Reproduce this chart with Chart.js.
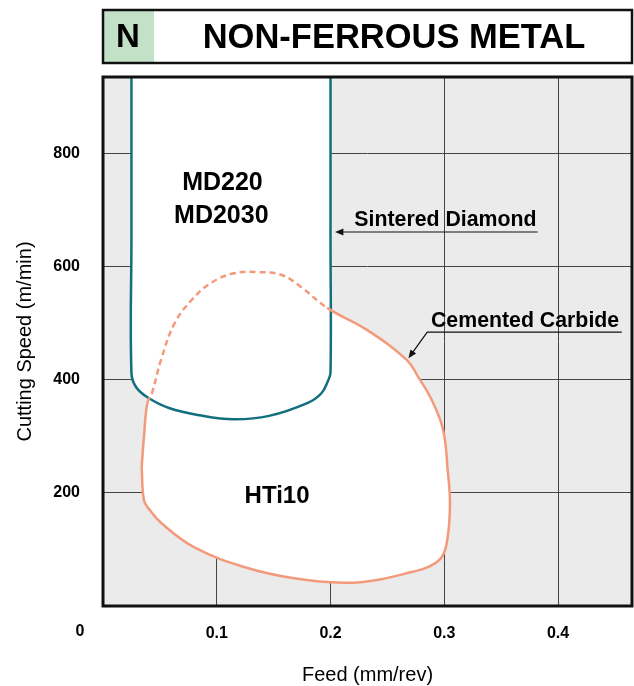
<!DOCTYPE html>
<html>
<head>
<meta charset="utf-8">
<script src="https://cdn.jsdelivr.net/npm/chart.js@4.4.1/dist/chart.umd.min.js"></script>
<style>
  body { margin: 0; background: #fff; }
  #wrap { width: 634px; height: 686px; position: relative; }
</style>
</head>
<body>
<div id="wrap"><canvas id="chart"></canvas></div>
<script>
// Cemented carbide (HTi10) outline
const carbideFeed  = [0.034, 0.036, 0.039, 0.043, 0.051, 0.063, 0.078, 0.095, 0.115, 0.137, 0.157, 0.174, 0.197,
                      0.232, 0.267, 0.277, 0.289, 0.299, 0.303, 0.305, 0.303, 0.298, 0.286, 0.271, 0.241, 0.212,
                      0.168, 0.124, 0.080, 0.051, 0.041, 0.036, 0.034];
const carbideSpeed = [246, 299, 359, 376, 435, 500, 541, 571, 588, 590, 585, 564, 527,
                      488, 435, 405, 364, 311, 240, 182, 122, 87, 69, 60, 46, 41,
                      49, 69, 104, 147, 170, 187, 246];
// dashed part of the carbide line (segment start indexes)
const carbideDashFrom = 2;
const carbideDashTo = 12;

// Sintered diamond (MD220 / MD2030) outline
const diamondFeed  = [0.025, 0.025, 0.025, 0.029, 0.039, 0.058, 0.085, 0.115, 0.146, 0.180, 0.192, 0.198, 0.200, 0.200, 0.200];
const diamondSpeed = [1000, 650, 412, 387, 369, 350, 337, 330, 336, 359, 376, 399, 413, 650, 1000];

const feedMax = 0.465;
const speedMax = 935;
const feedStep = 0.1;
const speedStep = 200;

const FONT = "Arial, 'Liberation Sans', Helvetica, sans-serif";
const TEAL = '#12707e';
const SALMON = '#f39a7c';

function toPoints(xs, ys) {
  return xs.map((x, i) => ({ x: x, y: ys[i] }));
}

function arrowHead(ctx, x1, y1, x2, y2, size) {
  const a = Math.atan2(y2 - y1, x2 - x1);
  ctx.beginPath();
  ctx.moveTo(x2, y2);
  ctx.lineTo(x2 - size * Math.cos(a - 0.4), y2 - size * Math.sin(a - 0.4));
  ctx.lineTo(x2 - size * Math.cos(a + 0.4), y2 - size * Math.sin(a + 0.4));
  ctx.closePath();
  ctx.fill();
}

// keep only the round ticks (no label at the axis max)
function roundTicks(step) {
  return scale => {
    scale.ticks = scale.ticks.filter(t => Math.abs(t.value / step - Math.round(t.value / step)) < 1e-6);
  };
}

// gray plot background
const bgPlugin = {
  id: 'bg',
  beforeDraw(chart) {
    const { ctx, chartArea: a } = chart;
    ctx.save();
    ctx.fillStyle = '#ebebeb';
    ctx.fillRect(a.left, a.top, a.right - a.left, a.bottom - a.top);
    ctx.restore();
  }
};

// white inside of each closed outline, painted before any outline
// (follows the same bezier control points chart.js computed for the lines)
const regionFill = {
  id: 'regionFill',
  beforeDatasetsDraw(chart) {
    const { ctx, chartArea: a } = chart;
    ctx.save();
    ctx.beginPath();
    ctx.rect(a.left, a.top, a.right - a.left, a.bottom - a.top);
    ctx.clip();
    ctx.fillStyle = '#ffffff';
    chart.data.datasets.forEach((ds, i) => {
      const pts = chart.getDatasetMeta(i).data;
      ctx.beginPath();
      ctx.moveTo(pts[0].x, pts[0].y);
      for (let k = 1; k < pts.length; k++) {
        const p = pts[k - 1], q = pts[k];
        ctx.bezierCurveTo(p.cp2x, p.cp2y, q.cp1x, q.cp1y, q.x, q.y);
      }
      ctx.closePath();
      ctx.fill();
    });
    ctx.restore();
  }
};

// title box, border, axis titles and annotations
const decoPlugin = {
  id: 'deco',
  afterDraw(chart) {
    const { ctx, chartArea: a, scales } = chart;
    const xs = scales.x, ys = scales.y;
    const px = v => xs.getPixelForValue(v);
    const py = v => ys.getPixelForValue(v);
    ctx.save();

    // plot border
    ctx.strokeStyle = '#111';
    ctx.lineWidth = 3;
    ctx.strokeRect(a.left, a.top, a.right - a.left, a.bottom - a.top);

    // title box
    ctx.fillStyle = '#c3e1c6';
    ctx.fillRect(a.left, 10, 51, 53);
    ctx.lineWidth = 2.5;
    ctx.strokeRect(a.left, 10, a.right - a.left, 53);
    ctx.fillStyle = '#000';
    ctx.textAlign = 'center';
    ctx.textBaseline = 'middle';
    ctx.font = 'bold 33px ' + FONT;
    ctx.fillText('N', a.left + 25, 38);
    ctx.font = 'bold 34.5px ' + FONT;
    ctx.fillText('NON-FERROUS METAL', 394, 38);

    // axis titles
    ctx.font = '20px ' + FONT;
    ctx.fillText('Feed (mm/rev)', (a.left + a.right) / 2, 675);
    ctx.save();
    ctx.translate(25, (a.top + a.bottom) / 2);
    ctx.rotate(-Math.PI / 2);
    ctx.fillText('Cutting Speed (m/min)', 0, 0);
    ctx.restore();

    // origin label
    ctx.font = 'bold 16px ' + FONT;
    ctx.fillText('0', 80, 632);

    // region labels
    ctx.font = 'bold 25px ' + FONT;
    ctx.fillText('MD220', px(0.105), py(747));
    ctx.fillText('MD2030', px(0.104), py(689));
    ctx.font = 'bold 24px ' + FONT;
    ctx.fillText('HTi10', px(0.153), py(193));

    // callouts
    ctx.font = 'bold 21.3px ' + FONT;
    ctx.fillText('Sintered Diamond', px(0.301), py(682));
    ctx.fillText('Cemented Carbide', px(0.371), py(504));

    ctx.strokeStyle = '#111';
    ctx.lineWidth = 1.2;
    ctx.beginPath();
    ctx.moveTo(px(0.382), py(661));
    ctx.lineTo(px(0.207), py(661));
    ctx.stroke();
    ctx.fillStyle = '#111';
    arrowHead(ctx, px(0.382), py(661), px(0.204), py(661), 9);

    ctx.beginPath();
    ctx.moveTo(px(0.456), py(484));
    ctx.lineTo(px(0.285), py(484));
    ctx.lineTo(px(0.270), py(442));
    ctx.stroke();
    arrowHead(ctx, px(0.285), py(484), px(0.2685), py(438), 9);

    ctx.restore();
  }
};

new Chart(document.getElementById('chart'), {
  type: 'line',
  data: {
    datasets: [
      {
        label: 'Cemented Carbide',
        data: toPoints(carbideFeed, carbideSpeed),
        borderColor: SALMON,
        borderWidth: 2.5,
        fill: false,
        tension: 0.4,
        pointRadius: 0,
        segment: {
          borderDash: c => (c.p0DataIndex >= carbideDashFrom && c.p0DataIndex < carbideDashTo) ? [6, 4] : undefined
        }
      },
      {
        label: 'Sintered Diamond',
        data: toPoints(diamondFeed, diamondSpeed),
        borderColor: TEAL,
        borderWidth: 2.5,
        fill: false,
        tension: 0.4,
        pointRadius: 0
      }
    ]
  },
  options: {
    responsive: true,
    maintainAspectRatio: false,
    animation: false,
    layout: { padding: { top: 77, right: 2, left: 0, bottom: 0 } },
    plugins: {
      legend: { display: false },
      tooltip: { enabled: false }
    },
    scales: {
      x: {
        type: 'linear',
        min: 0,
        max: feedMax,
        afterBuildTicks: roundTicks(feedStep),
        afterFit: s => { s.height = 80; },
        border: { display: false },
        grid: { color: '#444', lineWidth: 1, drawTicks: false },
        ticks: {
          stepSize: feedStep,
          padding: 18,
          color: '#000',
          font: { family: FONT, size: 16, weight: 'bold' },
          callback: v => v === 0 ? '' : v.toFixed(1)
        }
      },
      y: {
        min: 0,
        max: speedMax,
        afterBuildTicks: roundTicks(speedStep),
        afterFit: s => { s.width = 103; },
        border: { display: false },
        grid: { color: '#444', lineWidth: 1, drawTicks: false },
        ticks: {
          stepSize: speedStep,
          padding: 23,
          color: '#000',
          font: { family: FONT, size: 16, weight: 'bold' },
          callback: v => v === 0 ? '' : v
        }
      }
    }
  },
  plugins: [bgPlugin, regionFill, decoPlugin]
});
</script>
</body>
</html>
